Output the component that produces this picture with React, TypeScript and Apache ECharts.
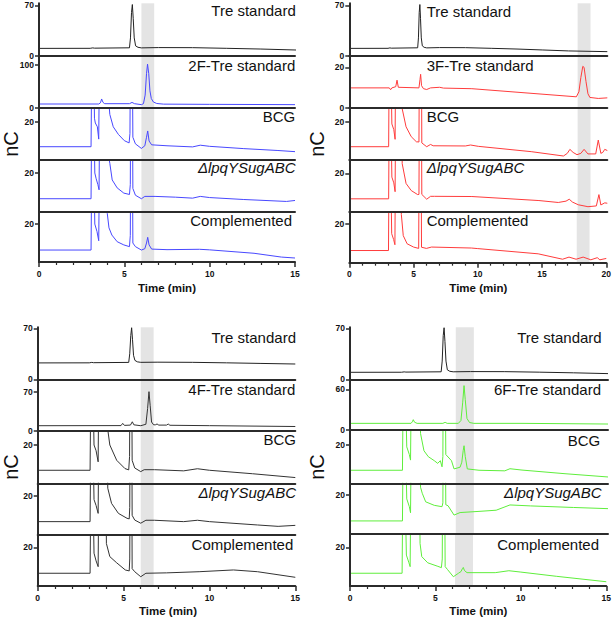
import React, { useEffect, useRef } from "react";
import * as echarts from "echarts";

type Pt = [number, number];

// ---------- DATA (time in min, signal in nC) ----------
const SAMPLE_NAMES_A = ["Tre standard", "2F-Tre standard", "BCG", "ΔlpqYSugABC", "Complemented"];
const SAMPLE_NAMES_B = ["Tre standard", "3F-Tre standard", "BCG", "ΔlpqYSugABC", "Complemented"];
const SAMPLE_NAMES_C = ["Tre standard", "4F-Tre standard", "BCG", "ΔlpqYSugABC", "Complemented"];
const SAMPLE_NAMES_D = ["Tre standard", "6F-Tre standard", "BCG", "ΔlpqYSugABC", "Complemented"];

const Y_TICKS_A = [[0, 70], [0, 100], [20], [20], [20]];
const Y_TICKS_B = [[0, 70], [0, 20], [20], [20], [20]];
const Y_TICKS_C = [[0, 70], [0, 70], [20], [20], [20]];
const Y_TICKS_D = [[0, 70], [0, 60], [20], [20], [20]];

const TRE_STD_AB: Pt[] = [[0,10.5],[3.0,10.6],[3.15,11.2],[3.25,10.8],[5.3,11.3],[5.36,25],[5.42,60],[5.47,71],[5.52,52],[5.58,25],[5.66,14],[5.8,12],[6.0,11.2],[7,11.6],[9,11.5],[11,10.6],[13,9.6],[15,8.3],[17,7],[20,6]];
const TRE_STD_C: Pt[] = [[0,22.5],[3.0,22.6],[3.15,23.2],[3.25,22.8],[5.3,23.2],[5.36,35],[5.42,60],[5.47,70.8],[5.52,55],[5.58,33],[5.66,26],[5.8,24],[6.0,23.3],[7,23.5],[9,23.3],[11,22.6],[13,21.8],[15,21]];
const TRE_STD_D: Pt[] = [[0,9.6],[3.0,9.7],[3.15,10.2],[3.25,9.9],[5.3,10.3],[5.36,25],[5.42,60],[5.47,70.8],[5.52,52],[5.58,25],[5.66,13],[5.8,11],[6.0,10.3],[7,10.6],[9,10.5],[11,9.8],[13,8.9],[15,7.8]];

const F2_STD: Pt[] = [[0,9.3],[3.5,9.3],[3.6,12],[3.67,21],[3.75,13],[3.85,10],[5.3,10],[5.45,13],[5.6,10],[6.0,7.8],[6.12,10],[6.22,30],[6.3,80],[6.36,102],[6.43,80],[6.5,40],[6.58,22],[6.7,14],[6.9,10.5],[7.3,9],[10,8.5],[15,7.8]];
const BCG_2F: Pt[] = [[0,7],[3.05,7],[3.1,60],[3.2,60],[3.25,22],[3.3,19.5],[3.42,17.5],[3.5,11],[3.55,60],[4.0,80],[4.08,32],[4.15,24],[4.35,17.5],[4.65,13.5],[5.0,10.2],[5.28,9],[5.33,14],[5.37,80],[5.45,80],[5.5,12],[5.65,8.5],[6.0,6.1],[6.2,7.5],[6.3,12],[6.37,15.3],[6.45,10],[6.6,8],[7.5,7.5],[9.0,6.9],[9.45,7.8],[10,7.2],[12,6],[14,5],[15,4.4]];
const DEL_2F: Pt[] = [[0,6.7],[3.05,6.7],[3.1,60],[3.2,60],[3.27,20],[3.35,17],[3.45,14],[3.52,11.3],[3.56,60],[4.0,80],[4.05,30],[4.15,25],[4.29,16.4],[4.58,12.3],[4.97,9.6],[5.3,8.9],[5.35,14],[5.38,80],[5.46,80],[5.5,12],[5.65,8.5],[6.0,6.7],[6.2,7.9],[6.8,7.9],[8,7.5],[9.0,7.0],[9.45,7.9],[10,7.3],[12,6.3],[14.5,5.3],[15,5.8]];
const COMP_2F: Pt[] = [[0,6.3],[3.05,6.3],[3.1,60],[3.2,60],[3.27,20],[3.4,16],[3.5,11.2],[3.55,60],[3.95,80],[4.0,25.6],[4.1,18],[4.27,14.2],[4.58,10.7],[4.97,9],[5.3,8.1],[5.35,14],[5.38,80],[5.46,80],[5.5,10],[5.65,8.1],[6.0,6.3],[6.2,7],[6.3,10],[6.37,13],[6.45,9],[6.6,6.8],[7.5,6.5],[9.4,6.7],[10,6.4],[12.6,4.6],[14.2,2.6],[15,2.1]];

const F3_STD: Pt[] = [[0,9.9],[3.1,9.9],[3.2,9],[3.3,9.9],[3.6,10.5],[3.7,13.7],[3.8,10.2],[5.4,9.9],[5.48,14],[5.53,16.6],[5.6,11],[5.75,9.5],[6.0,9.1],[6.3,9.9],[7.0,10.2],[7.3,9.8],[9.5,9.5],[17.6,5.5],[17.8,8],[17.95,15],[18.1,20.5],[18.2,20],[18.35,13],[18.5,7],[18.65,5.2],[19.3,4.7],[20,5]];
const BCG_3F: Pt[] = [[0,7],[3.05,7],[3.1,60],[3.2,60],[3.3,19],[3.45,16],[3.55,10.9],[3.6,60],[4.05,80],[4.1,27],[4.4,17.5],[4.8,12.3],[5.2,9.6],[5.4,9.5],[5.45,80],[5.58,80],[5.62,9],[6.0,7],[6.3,8.2],[6.5,7.5],[9.0,7.4],[9.4,7.9],[10,7.2],[14.1,4.4],[16.6,2.1],[16.9,3.5],[17.1,5.6],[17.35,4],[17.65,2.8],[17.95,3.5],[18.2,5.6],[18.5,3.2],[19.1,3.2],[19.3,10.5],[19.5,3.5],[19.65,4],[19.8,5.6],[20,5]];
const DEL_3F: Pt[] = [[0,6.7],[3.05,6.7],[3.1,60],[3.2,60],[3.3,18],[3.45,15],[3.55,10.4],[3.6,60],[4.05,80],[4.1,25],[4.4,14.7],[4.8,11],[5.3,8.9],[5.4,9],[5.45,80],[5.58,80],[5.62,9],[6.0,6.5],[6.3,8],[6.6,8],[9.5,7.9],[14.7,5.8],[16.2,4.8],[16.8,5.5],[17.05,6.5],[17.3,5],[17.75,3.6],[18.5,2.6],[19.15,3],[19.35,8.9],[19.5,3.5],[19.8,4.6],[20,4.4]];
const COMP_3F: Pt[] = [[0,6.3],[3.05,6.3],[3.1,60],[3.2,60],[3.3,15],[3.45,12],[3.55,9.3],[3.6,60],[4.0,80],[4.05,25],[4.2,14],[4.5,9.8],[5.0,8.1],[5.4,7.4],[5.45,80],[5.58,80],[5.62,8],[6.0,7.4],[6.4,8.1],[9.5,7.6],[10,7.3],[14.7,4.6],[16.6,1.8],[17.1,2.9],[17.65,1.8],[18.2,2.9],[18.8,1.5],[19.3,2.6],[19.5,1.5],[20,2.2]];

const F4_STD: Pt[] = [[0,9.4],[4.85,9.6],[4.95,13.6],[5.05,10],[5.4,10.5],[5.51,16.4],[5.6,11],[6.0,9.4],[6.3,12],[6.4,40],[6.48,70],[6.55,45],[6.63,16],[6.75,11],[6.85,11],[6.95,12.5],[7.05,10.5],[7.5,10.5],[7.6,12.4],[7.7,10.2],[10,9.5],[15,8]];
const BCG_4F: Pt[] = [[0,6.8],[3.05,6.8],[3.1,60],[3.2,60],[3.28,20],[3.4,17],[3.52,11.2],[3.56,60],[4.0,80],[4.08,28],[4.2,20],[4.6,12],[5.08,7.7],[5.3,7],[5.35,14],[5.38,80],[5.46,80],[5.5,12],[5.65,8],[6.0,6.1],[6.2,7.1],[6.8,7.1],[8.5,6.5],[9.3,7.6],[10,6.8],[12.5,5],[15,3]];
const DEL_4F: Pt[] = [[0,6.8],[3.05,6.8],[3.1,60],[3.2,60],[3.28,18],[3.4,15],[3.52,11],[3.56,60],[4.0,80],[4.08,23.8],[4.3,16.1],[4.7,11],[5.2,8.5],[5.33,8.2],[5.36,14],[5.39,80],[5.47,80],[5.5,10],[5.65,7.6],[6.0,6],[6.3,7.5],[6.8,7.5],[8.5,6.8],[9.3,7.5],[10,6.8],[12.8,5.1],[14,4.4],[15,4.9]];
const COMP_4F: Pt[] = [[0,6.6],[3.05,6.6],[3.1,60],[3.2,60],[3.28,17],[3.4,13],[3.52,10],[3.56,60],[3.95,80],[4.0,22],[4.2,15.2],[4.6,12],[5.1,8.3],[5.33,7.8],[5.36,14],[5.39,80],[5.47,80],[5.5,9],[5.65,7.4],[6.0,4.8],[6.3,6.6],[7.5,6.8],[9.4,7.4],[11.4,8.3],[12.8,7.4],[15,4.5]];

const F6_STD: Pt[] = [[0,9.8],[3.55,9.8],[3.62,12],[3.68,15.2],[3.75,11.5],[3.9,9.8],[5.4,9.8],[5.53,11.3],[5.65,9.8],[6.3,9.8],[6.45,14],[6.55,40],[6.63,65.4],[6.7,45],[6.8,17],[6.95,11],[7.2,9.8],[10,9.8],[15,8.8]];
const BCG_6F: Pt[] = [[0,6.8],[3.05,6.8],[3.1,60],[3.2,60],[3.3,19],[3.45,15],[3.52,12.1],[3.57,60],[4.05,80],[4.1,26],[4.3,17],[4.55,13.9],[4.9,11.8],[5.1,10.4],[5.25,11.8],[5.35,8.6],[5.4,14],[5.43,80],[5.52,80],[5.57,15],[5.9,11.8],[6.05,7.5],[6.4,8.4],[6.5,11],[6.58,17],[6.63,19.6],[6.7,14],[6.82,7.5],[7.5,6.8],[9.0,6.5],[9.3,7.6],[10,6.9],[12.5,5],[15,3.3]];
const DEL_6F: Pt[] = [[0,6.7],[3.05,6.7],[3.1,60],[3.2,60],[3.3,18],[3.45,14],[3.52,10.9],[3.57,60],[4.05,80],[4.1,24],[4.2,20.9],[4.4,16.5],[4.9,14.7],[5.35,14],[5.4,16],[5.43,80],[5.52,80],[5.57,15],[5.7,14.5],[6.05,9.7],[6.4,11],[7.5,11.6],[8.5,12.2],[9.3,14.9],[10.5,14.4],[13,13.6],[15,13]];
const COMP_6F: Pt[] = [[0,6.6],[3.05,6.6],[3.1,60],[3.2,60],[3.3,16],[3.45,12],[3.52,10],[3.57,60],[4.05,80],[4.1,22],[4.2,15.2],[4.55,12],[5.1,10.3],[5.35,9.5],[5.4,14],[5.43,80],[5.52,80],[5.57,10],[5.7,8.6],[6.05,4.8],[6.35,6.6],[6.5,7.5],[6.58,9],[6.63,9.6],[6.7,8],[6.85,6.9],[8.5,6.9],[9.3,7.9],[10,7.2],[12.1,5],[15,2.2]];

const BAND_A = [6.0, 6.75];
const BAND_B = [17.7, 18.7];
const BAND_C = [6.0, 6.75];
const BAND_D = [6.15, 7.2];

// ---------- LAYOUT / STYLE ----------
const FONT = "'Liberation Sans', Arial, Helvetica, sans-serif";
const AXIS = "#2b2b2b";
const TRE_COLOR = "#222222";
const BAND_COLOR = "#e4e4e4";

const PANELS = [
  {
    left: 39, width: 256, bounds: [3.3, 56, 108, 160, 211.7, 262], ymax: [72.7, 121, 27.4, 26.7, 26.5],
    xmax: 15, band: BAND_A, color: "#4848ff", yticks: Y_TICKS_A, names: SAMPLE_NAMES_A,
    data: [TRE_STD_AB, F2_STD, BCG_2F, DEL_2F, COMP_2F],
    align: "right", labelX: [295.8, 295.3, 295.3, 295.5, 292], labelY: [10.7, 65, 116.7, 167.7, 220],
    nC: [10.5, 144], time: [167, 288],
  },
  {
    left: 349.3, width: 258, bounds: [3.3, 56, 108, 160, 211.7, 262.7], ymax: [72.7, 25.6, 27.4, 26.9, 26.4],
    xmax: 20, band: BAND_B, color: "#ff3c3c", yticks: Y_TICKS_B, names: SAMPLE_NAMES_B,
    data: [TRE_STD_AB, F3_STD, BCG_3F, DEL_3F, COMP_3F],
    align: "left", labelX: [426.7, 426.7, 426.7, 426.7, 426.7], labelY: [11, 65, 116.7, 167.7, 220],
    nC: [317, 144], time: [478.3, 288],
  },
  {
    left: 37.7, width: 257.6, bounds: [327.3, 379.3, 431, 483.3, 535, 586], ymax: [71.4, 92, 27.3, 26.3, 26.4],
    xmax: 15, band: BAND_C, color: "#333333", yticks: Y_TICKS_C, names: SAMPLE_NAMES_C,
    data: [TRE_STD_C, F4_STD, BCG_4F, DEL_4F, COMP_4F],
    align: "right", labelX: [296, 295.3, 296, 296, 293.3], labelY: [337.7, 389, 439.3, 492.7, 544.3],
    nC: [10.5, 467], time: [168, 611],
  },
  {
    left: 350, width: 258, bounds: [327.3, 379.3, 430, 483.3, 534, 586], ymax: [71.4, 74.7, 27.8, 26, 26.9],
    xmax: 15, band: BAND_D, color: "#5fee3c", yticks: Y_TICKS_D, names: SAMPLE_NAMES_D,
    data: [TRE_STD_D, F6_STD, BCG_6F, DEL_6F, COMP_6F],
    align: "right", labelX: [601.7, 601, 600.3, 601.7, 599], labelY: [337.3, 389, 440, 492.7, 544.3],
    nC: [317, 467], time: [478.3, 611],
  },
];

function buildOption() {
  const grid: any[] = [];
  const xAxis: any[] = [];
  const yAxis: any[] = [];
  const series: any[] = [];
  const graphic: any[] = [];
  let gi = 0;
  PANELS.forEach((p) => {
    for (let k = 0; k < 5; k++) {
      const top = p.bounds[k];
      const bottom = p.bounds[k + 1];
      const isBottom = k === 4;
      grid.push({ left: p.left, top, width: p.width, height: bottom - top, containLabel: false });
      xAxis.push({
        type: "value", gridIndex: gi, min: 0, max: p.xmax, interval: 5, z: 3,
        axisLine: { show: true, onZero: false, lineStyle: { color: AXIS, width: 2 } },
        axisTick: { show: isBottom, length: 5, lineStyle: { color: AXIS, width: 1.5 } },
        minorTick: { show: isBottom, splitNumber: 5, length: 3, lineStyle: { color: AXIS, width: 1.2 } },
        axisLabel: { show: isBottom, margin: 7, fontFamily: FONT, fontWeight: "bold", fontSize: 8.5, color: "#111" },
        splitLine: { show: false }, minorSplitLine: { show: false },
      });
      yAxis.push({
        type: "value", gridIndex: gi, min: 0, max: p.ymax[k], z: 3,
        axisLine: { show: true, onZero: false, lineStyle: { color: AXIS, width: 2 } },
        axisTick: { show: true, length: 4, customValues: p.yticks[k], lineStyle: { color: AXIS, width: 1.5 } },
        axisLabel: { show: true, customValues: p.yticks[k], margin: 5, fontFamily: FONT, fontWeight: "bold", fontSize: 8.5, color: "#111" },
        splitLine: { show: false },
      });
      series.push({
        type: "line", xAxisIndex: gi, yAxisIndex: gi, data: p.data[k], showSymbol: false, symbol: "none",
        clip: true, z: 2, silent: true,
        lineStyle: { width: 1, color: k === 0 ? TRE_COLOR : p.color },
        markArea: {
          silent: true, itemStyle: { color: BAND_COLOR },
          data: [[{ xAxis: p.band[0] }, { xAxis: p.band[1] }]],
        },
      });
      const isDelta = k === 3;
      graphic.push({
        type: "text", x: p.labelX[k], y: p.labelY[k], z: 10,
        style: {
          text: p.names[k], fill: "#111", fontFamily: FONT, fontSize: 15,
          fontStyle: isDelta ? "italic" : "normal", align: p.align, verticalAlign: "middle",
        },
      });
      gi++;
    }
    graphic.push({
      type: "text", x: p.nC[0], y: p.nC[1], rotation: Math.PI / 2, z: 10,
      style: { text: "nC", fill: "#111", fontFamily: FONT, fontSize: 20, align: "center", verticalAlign: "middle" },
    });
    graphic.push({
      type: "text", x: p.time[0], y: p.time[1], z: 10,
      style: { text: "Time (min)", fill: "#111", fontFamily: FONT, fontSize: 11.5, fontWeight: "bold", align: "center", verticalAlign: "middle" },
    });
  });
  return { animation: false, backgroundColor: "#ffffff", grid, xAxis, yAxis, series, graphic };
}

export default function App() {
  const ref = useRef<HTMLDivElement>(null);
  useEffect(() => {
    if (!ref.current) return;
    const chart = echarts.init(ref.current, undefined, { renderer: "svg" });
    chart.setOption(buildOption() as any);
    return () => chart.dispose();
  }, []);
  return <div ref={ref} style={{ position: "fixed", left: 0, top: 0, width: 614, height: 619, background: "#fff" }} />;
}
